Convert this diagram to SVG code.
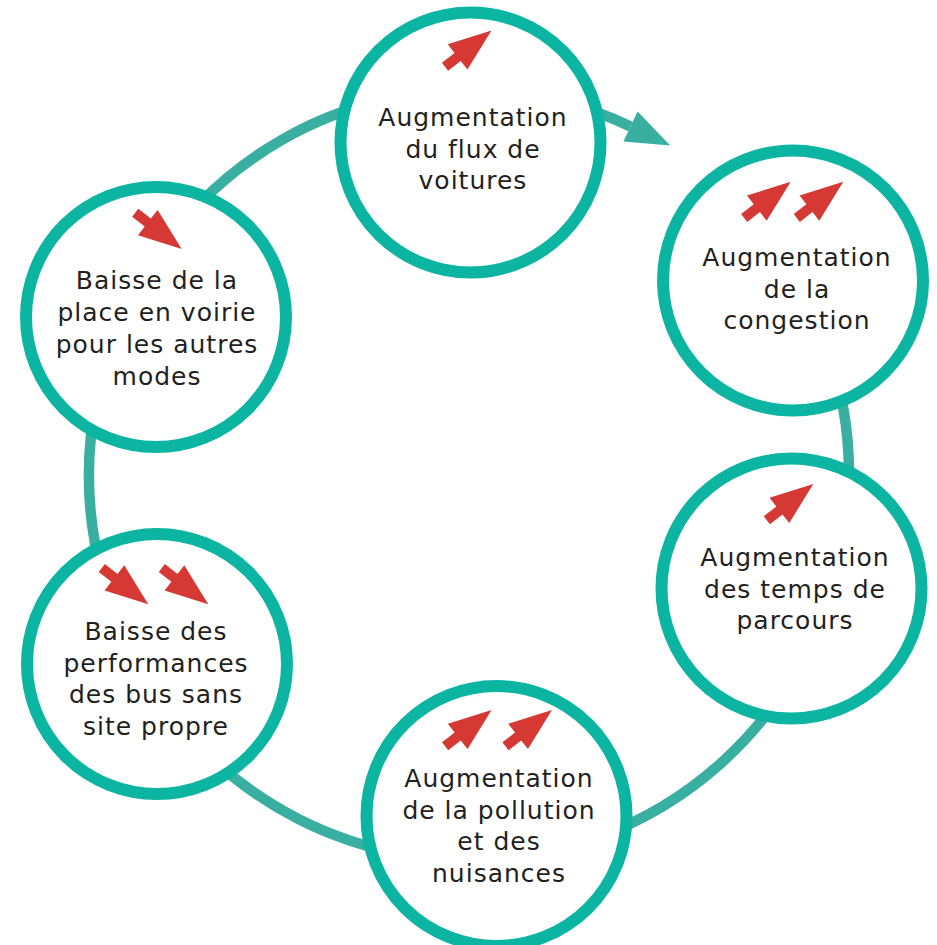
<svg xmlns="http://www.w3.org/2000/svg" width="937" height="945" viewBox="0 0 937 945">
<style>
.node{fill:#ffffff;stroke:#0BB5A1;stroke-width:12}
.link{fill:none;stroke:#38AFA0;stroke-width:10.5}
.lbl{font-family:"DejaVu Sans","Liberation Sans",sans-serif;font-size:25px;letter-spacing:1px;fill:#231F20;text-anchor:middle}
.trend{fill:#D63833}
</style>
<defs>
<path id="arr" d="M0,-5 L16,-5 L16,-16 L59,0 L16,16 L16,5 L0,5 Z"/>
<marker id="head" markerUnits="userSpaceOnUse" viewBox="0 -17 46 34" markerWidth="46" markerHeight="34" refX="0" refY="0" orient="auto" overflow="visible">
<path d="M0,-16.5 L44,0 L0,16.5 Z" fill="#38AFA0"/>
</marker>
</defs>
<rect width="937" height="945" fill="#ffffff"/>
<g id="connectors">
<path class="link" d="M560,101.2 A380 385 0 0 1 630.5,126.5" marker-end="url(#head)"/>
<path class="link" d="M837.3,380 A380 385 0 0 1 848.2,500"/>
<path class="link" d="M807.5,650 A380 385 0 0 1 600,836.4"/>
<path class="link" d="M400,853.6 A380 385 0 0 1 210,756.7"/>
<path class="link" d="M103.4,580 A380 385 0 0 1 96.3,400"/>
<path class="link" d="M200,203 A380 385 0 0 1 380,100.7"/>
</g>
<g id="node-flux">
<circle class="node" cx="470.5" cy="142.5" r="130"/>
<use href="#arr" class="trend" transform="translate(445,66.8) rotate(-38)"/>
<text class="lbl"><tspan x="473" y="126">Augmentation</tspan><tspan x="473" y="157.5">du flux de</tspan><tspan x="473" y="189">voitures</tspan></text>
</g>
<g id="node-congestion">
<circle class="node" cx="793" cy="280.5" r="130"/>
<use href="#arr" class="trend" transform="translate(744.2,218) rotate(-38)"/>
<use href="#arr" class="trend" transform="translate(796.8,218) rotate(-38)"/>
<text class="lbl"><tspan x="797" y="266">Augmentation</tspan><tspan x="797" y="298">de la</tspan><tspan x="797" y="329">congestion</tspan></text>
</g>
<g id="node-temps">
<circle class="node" cx="791.5" cy="588.5" r="130"/>
<use href="#arr" class="trend" transform="translate(766.8,520.3) rotate(-38)"/>
<text class="lbl"><tspan x="795" y="566">Augmentation</tspan><tspan x="795" y="597.5">des temps de</tspan><tspan x="795" y="629">parcours</tspan></text>
</g>
<g id="node-pollution">
<circle class="node" cx="496.5" cy="816" r="130"/>
<use href="#arr" class="trend" transform="translate(445.1,746.3) rotate(-38)"/>
<use href="#arr" class="trend" transform="translate(505.5,746.3) rotate(-38)"/>
<text class="lbl"><tspan x="499" y="787">Augmentation</tspan><tspan x="499" y="818.5">de la pollution</tspan><tspan x="499" y="850">et des</tspan><tspan x="499" y="882">nuisances</tspan></text>
</g>
<g id="node-bus">
<circle class="node" cx="157" cy="664" r="130"/>
<use href="#arr" class="trend" transform="translate(101.8,568) rotate(38)"/>
<use href="#arr" class="trend" transform="translate(161.8,568) rotate(38)"/>
<text class="lbl"><tspan x="156" y="640">Baisse des</tspan><tspan x="156" y="671.5">performances</tspan><tspan x="156" y="703">des bus sans</tspan><tspan x="156" y="735">site propre</tspan></text>
</g>
<g id="node-voirie">
<circle class="node" cx="156" cy="317" r="130"/>
<use href="#arr" class="trend" transform="translate(135.2,212.7) rotate(38)"/>
<text class="lbl"><tspan x="157" y="289">Baisse de la</tspan><tspan x="157" y="321">place en voirie</tspan><tspan x="157" y="353">pour les autres</tspan><tspan x="157" y="385">modes</tspan></text>
</g>
</svg>
